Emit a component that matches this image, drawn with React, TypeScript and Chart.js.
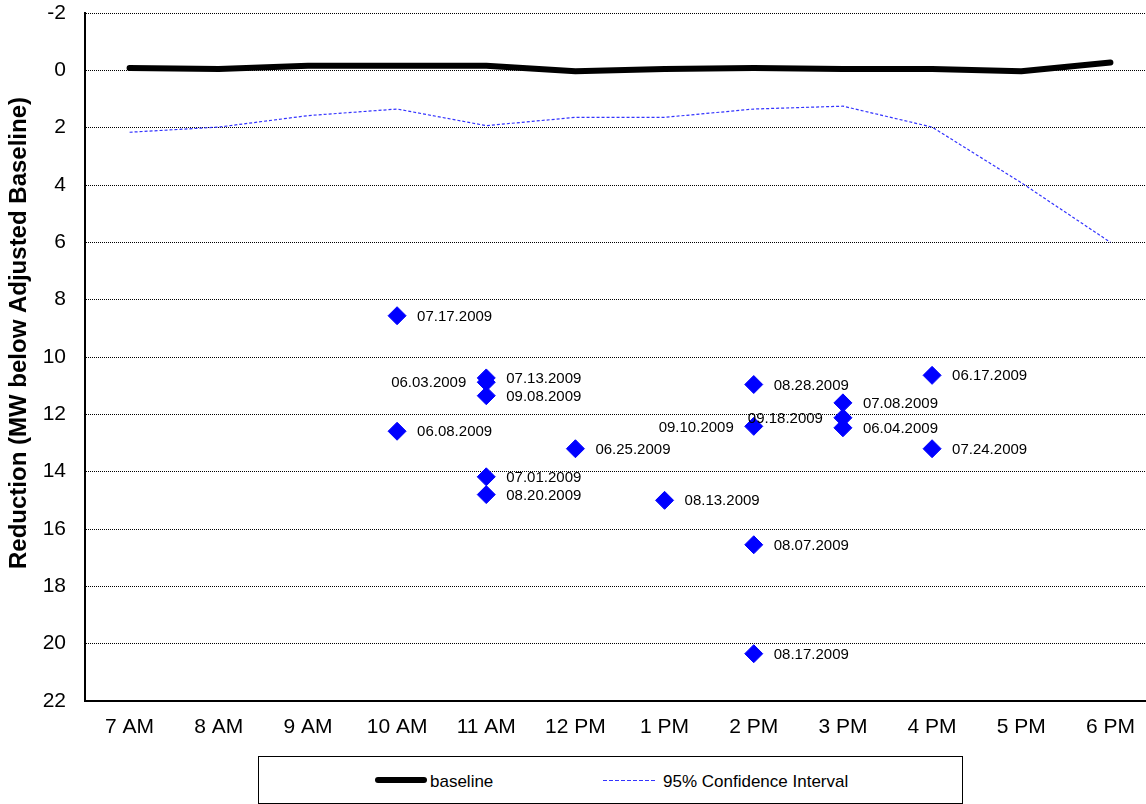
import React, { useEffect, useRef } from "react";
import { Chart, registerables } from "chart.js";

Chart.register(...registerables);

const hours = ["7 AM", "8 AM", "9 AM", "10 AM", "11 AM", "12 PM", "1 PM", "2 PM", "3 PM", "4 PM", "5 PM", "6 PM"];
const baselineValues = [-0.08, -0.05, -0.16, -0.16, -0.16, 0.03, -0.05, -0.08, -0.05, -0.05, 0.03, -0.27];
const ciValues = [2.16, 1.98, 1.58, 1.35, 1.93, 1.64, 1.64, 1.35, 1.25, 1.98, 3.92, 6.0];

const pointDates = [
  "07.17.2009", "06.08.2009", "07.13.2009", "06.03.2009", "09.08.2009", "07.01.2009", "08.20.2009",
  "06.25.2009", "08.13.2009", "08.28.2009", "09.10.2009", "08.07.2009", "08.17.2009",
  "07.08.2009", "09.18.2009", "06.04.2009", "06.17.2009", "07.24.2009",
];
const pointHours = [
  "10 AM", "10 AM", "11 AM", "11 AM", "11 AM", "11 AM", "11 AM",
  "12 PM", "1 PM", "2 PM", "2 PM", "2 PM", "2 PM",
  "3 PM", "3 PM", "3 PM", "4 PM", "4 PM",
];
const pointValues = [
  8.56, 12.59, 10.73, 10.88, 11.35, 14.18, 14.8,
  13.2, 15.0, 10.96, 12.42, 16.55, 20.35,
  11.6, 12.12, 12.47, 10.64, 13.2,
];
const pointSides = [
  "right", "right", "right", "left", "right", "right", "right",
  "right", "right", "right", "left", "right", "right",
  "right", "left", "right", "right", "right",
];

const yMin = -2;
const yMax = 22;
const yStep = 2;
const yTitle = "Reduction (MW below Adjusted Baseline)";

const FONT = '"Liberation Sans", Arial, Helvetica, sans-serif';

const pointLabels = {
  id: "pointLabels",
  afterDatasetsDraw(chart: any) {
    const meta = chart.getDatasetMeta(2);
    const ctx = chart.ctx;
    ctx.save();
    ctx.font = `15px ${FONT}`;
    ctx.fillStyle = "#000";
    ctx.textBaseline = "middle";
    meta.data.forEach((el: any, i: number) => {
      const left = pointSides[i] === "left";
      ctx.textAlign = left ? "right" : "left";
      ctx.fillText(pointDates[i], el.x + (left ? -20 : 20), el.y + 1);
    });
    ctx.restore();
  },
};

const axisTitle = {
  id: "axisTitle",
  afterDraw(chart: any) {
    const ctx = chart.ctx;
    const area = chart.chartArea;
    ctx.save();
    ctx.translate(19, (area.top + area.bottom) / 2 - 24);
    ctx.rotate(-Math.PI / 2);
    ctx.font = `bold 24px ${FONT}`;
    ctx.fillStyle = "#000";
    ctx.textAlign = "center";
    ctx.textBaseline = "middle";
    ctx.fillText(yTitle, 0, 0);
    ctx.restore();
  },
};

export default function App() {
  const canvasRef = useRef<HTMLCanvasElement | null>(null);

  useEffect(() => {
    const canvas = canvasRef.current;
    if (!canvas) return;
    const chart = new Chart(canvas, {
      type: "line",
      data: {
        labels: hours,
        datasets: [
          {
            label: "baseline",
            data: baselineValues,
            borderColor: "#000",
            backgroundColor: "#000",
            borderWidth: 6,
            borderCapStyle: "round",
            borderJoinStyle: "round",
            pointRadius: 0,
            tension: 0,
            fill: false,
          },
          {
            label: "95% Confidence Interval",
            data: ciValues,
            borderColor: "#3333ff",
            backgroundColor: "#3333ff",
            borderWidth: 1.2,
            borderDash: [3, 2],
            pointRadius: 0,
            tension: 0,
            fill: false,
          },
          {
            label: "events",
            data: pointHours.map((h, i) => ({ x: h, y: pointValues[i] })),
            showLine: false,
            pointStyle: "rectRot",
            pointRadius: 9,
            pointBorderWidth: 1,
            pointBackgroundColor: "#0000ff",
            pointBorderColor: "#0000ff",
            borderColor: "#0000ff",
            backgroundColor: "#0000ff",
          },
        ],
      } as any,
      options: {
        responsive: false,
        animation: false,
        layout: { autoPadding: false, padding: { top: 13, right: 5, left: 0, bottom: 0 } },
        plugins: {
          legend: { display: false },
          tooltip: { enabled: false },
        },
        scales: {
          x: {
            type: "category",
            offset: true,
            grid: { display: false, drawTicks: false },
            border: { display: true, color: "#000", width: 2 },
            ticks: {
              color: "#000",
              font: { family: FONT, size: 21 },
              padding: 14,
              maxRotation: 0,
              autoSkip: false,
            },
            afterFit: (scale: any) => {
              scale.height = 49;
            },
          },
          y: {
            type: "linear",
            reverse: true,
            min: yMin,
            max: yMax,
            grid: { color: "#000", lineWidth: 1, drawTicks: false },
            border: { display: true, color: "#000", width: 2, dash: [1, 1] },
            ticks: {
              stepSize: yStep,
              color: "#000",
              font: { family: FONT, size: 21 },
              padding: 19,
            },
            title: { display: false, text: yTitle },
            afterFit: (scale: any) => {
              scale.width = 85;
              scale.paddingTop = 0;
              scale.paddingBottom = 0;
            },
          },
        },
      } as any,
      plugins: [pointLabels, axisTitle],
    });
    return () => chart.destroy();
  }, []);

  return (
    <div
      style={{
        position: "fixed",
        left: 0,
        top: 0,
        width: 1146,
        height: 804,
        overflow: "hidden",
        background: "#fff",
      }}
    >
      <canvas ref={canvasRef} width={1160} height={750} style={{ position: "absolute", left: 0, top: 0, display: "block" }} />
      <div
        style={{
          position: "absolute",
          left: 258,
          top: 756,
          width: 705,
          height: 48,
          boxSizing: "border-box",
          border: "1px solid #000",
        }}
      />
      <svg style={{ position: "absolute", left: 370, top: 774, overflow: "visible" }} width={62} height={12}>
        <line x1={8} y1={6} x2={54} y2={6} stroke="#000" strokeWidth={6} strokeLinecap="round" />
      </svg>
      <span
        style={{
          position: "absolute",
          left: 430,
          top: 772,
          font: `17px ${FONT}`,
          lineHeight: "20px",
          whiteSpace: "nowrap",
          color: "#000",
        }}
      >
        baseline
      </span>
      <svg style={{ position: "absolute", left: 603, top: 775, overflow: "visible" }} width={56} height={10}>
        <line x1={0} y1={5.5} x2={54} y2={5.5} stroke="#3333ff" strokeWidth={1} strokeDasharray="4 2" />
      </svg>
      <span
        style={{
          position: "absolute",
          left: 663,
          top: 772,
          font: `17px ${FONT}`,
          lineHeight: "20px",
          whiteSpace: "nowrap",
          color: "#000",
        }}
      >
        95% Confidence Interval
      </span>
    </div>
  );
}
